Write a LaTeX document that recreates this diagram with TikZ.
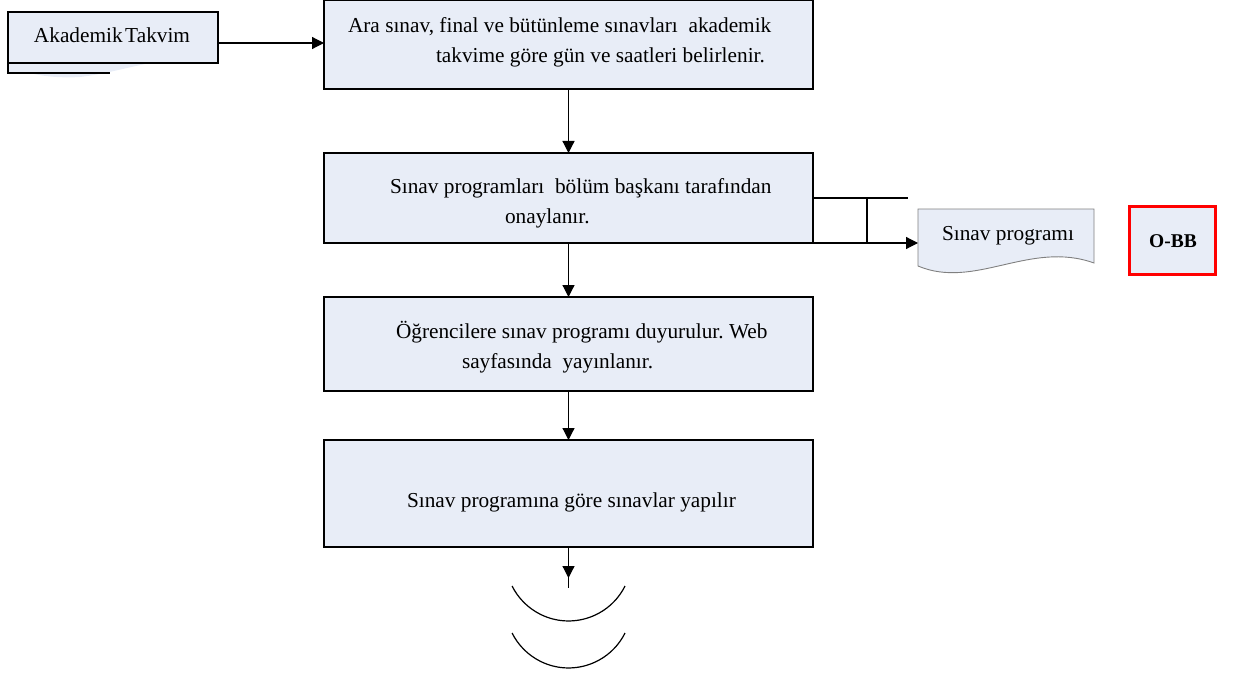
\documentclass[tikz,border=0pt]{standalone}
\usepackage{fontspec}
\setmainfont{Liberation Serif}
\usetikzlibrary{arrows.meta}
\definecolor{boxblue}{RGB}{232,237,247}
\definecolor{docgray}{RGB}{128,128,128}
\definecolor{markred}{RGB}{255,0,0}
\frenchspacing
\begin{document}
\begin{tikzpicture}[x=1pt,y=-1pt]
\tikzset{
  proc/.style={draw=black, fill=boxblue, line width=1.3pt, inner sep=0pt, outer sep=0pt},
  conn/.style={line width=1.2pt, -{Triangle[length=12pt,width=12pt]}},
  wire/.style={line width=1.2pt},
  txt/.style={font=\fontsize{21.3}{30}\selectfont, inner sep=0pt, outer sep=0pt},
}
\useasboundingbox (0,0) rectangle (1234,674);

% input: academic calendar (document symbol, partly hidden)
\fill[boxblue] (8,63) -- (8,73) -- (30,73) .. controls (45,77) and (65,78) .. (80,77)
  .. controls (105,74) and (125,68) .. (150,63) -- cycle;
\node[proc, minimum width=210pt, minimum height=51pt] (cal) at (113,37.5) {};
\node[txt, anchor=base] (calt) at (112,42.5) {Akademik\hspace{0.12em}Takvim};
\draw[wire] (cal.south west) -- (8,73) -- (110,73);

% process boxes
\node[proc, minimum width=489pt, minimum height=89pt] (b1) at (568.5,44.5) {};
\node[proc, minimum width=489pt, minimum height=90pt] (b2) at (568.5,198) {};
\node[proc, minimum width=489pt, minimum height=94pt] (b3) at (568.5,344) {};
\node[proc, minimum width=489pt, minimum height=107pt] (b4) at (568.5,493.5) {};

\node[txt, anchor=base west] (b1a) at (348,33) {Ara sınav, final ve bütünleme sınavları\ \ akademik};
\node[txt, anchor=base west] (b1b) at (436,63) {takvime göre gün ve saatleri belirlenir.};
\node[txt, anchor=base west] (b2a) at (390,193) {Sınav programları\ \ bölüm başkanı tarafından};
\node[txt, anchor=base west] (b2b) at (505,223) {onaylanır.};
\node[txt, anchor=base west] (b3a) at (396,338) {Öğrencilere sınav programı duyurulur. Web};
\node[txt, anchor=base west] (b3b) at (462,368) {sayfasında\ \ yayınlanır.};
\node[txt, anchor=base west] (b4a) at (407,507) {Sınav programına göre sınavlar yapılır};

% output document
\draw[docgray, fill=boxblue, line width=0.9pt] (918,209) -- (1094,209) -- (1094,263)
  .. controls (1030,240) and (975,290) .. (918,266) -- cycle;
\node[txt, anchor=base] (doct) at (1008,240) {Sınav programı};
\coordinate (docin) at (918,243);

% responsible unit
\node[draw=markred, fill=boxblue, line width=3.5pt, minimum width=86pt, minimum height=68pt,
  inner sep=0pt] (obb) at (1172.5,240.5) {};
\node[font=\fontsize{19.5}{22}\selectfont\bfseries, inner sep=0pt] (obbt) at (1173,241) {O-BB};

% connectors
\coordinate (ay) at (0,43);
\draw[conn] (cal.east |- ay) -- (b1.west |- ay);
\draw[conn] (b1.south) -- (b2.north);
\draw[conn] (b2.south) -- (b3.north);
\draw[conn] (b3.south) -- (b4.north);
\coordinate (tip) at (568.5,578);
\coordinate (tail) at (568.5,588);
\draw[wire] (b4.south) -- (tail);
\draw[conn] (b4.south) -- (tip);

% link from approval box to the programme document
\coordinate (r1) at (908,198);
\coordinate (j1) at (867,198);
\draw[wire] (b2.east |- r1) -- (r1);
\draw[wire] (j1) -- (j1 |- b2.south);
\draw[conn] (b2.south east) -- (docin);

% off-page connector arcs
\draw[wire] (625,586) arc[start angle=26.5, end angle=153.5, radius=63.1];
\draw[wire] (625,633) arc[start angle=26.5, end angle=153.5, radius=63.1];
\end{tikzpicture}
\end{document}
